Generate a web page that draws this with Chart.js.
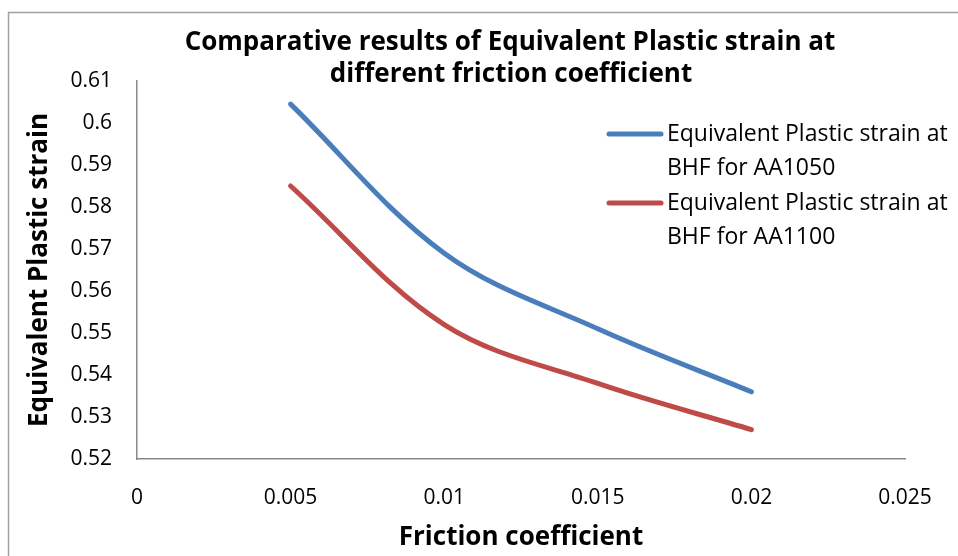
<!DOCTYPE html>
<html><head><meta charset="utf-8">
<script src="https://cdn.jsdelivr.net/npm/chart.js@4/dist/chart.umd.min.js"></script>
<style>html,body{margin:0;padding:0;background:#fff}</style>
</head><body>
<canvas id="c" width="958" height="556"></canvas>
<script>
const titleLines = ['Comparative results of Equivalent Plastic strain at', 'different friction coefficient'];
const xTitle = 'Friction coefficient';
const yTitle = 'Equivalent Plastic strain';
const friction = [0.005, 0.01, 0.015, 0.02];
const aa1050 = [0.6045, 0.569, 0.551, 0.536];
const aa1100 = [0.585, 0.552, 0.538, 0.527];
const seriesNames = ['Equivalent Plastic strain at BHF for AA1050', 'Equivalent Plastic strain at BHF for AA1100'];
const legendLines = [['Equivalent Plastic strain at', 'BHF for AA1050'], ['Equivalent Plastic strain at', 'BHF for AA1100']];
const xMin = 0, xMax = 0.025, xStep = 0.005;
const yMin = 0.52, yMax = 0.61, yStep = 0.01;
const colors = ['#4A7EBB', '#BE4B48'];

const FONT = "'Open Sans', 'Noto Sans', sans-serif";

const toPts = (xs, ys) => xs.map((x, i) => ({x: x, y: ys[i]}));
const fmt = v => String(parseFloat(Number(v).toFixed(4)));

const framePlugin = {
  id: 'frame',
  beforeDraw(chart) {
    const ctx = chart.ctx;
    ctx.save();
    ctx.fillStyle = '#fff';
    ctx.fillRect(0, 0, chart.width, chart.height);
    ctx.strokeStyle = '#a0a0a0';
    ctx.lineWidth = 1.5;
    ctx.beginPath();
    ctx.moveTo(8.5, chart.height);
    ctx.lineTo(8.5, 12.5);
    ctx.lineTo(chart.width, 12.5);
    ctx.stroke();
    ctx.restore();
  }
};

const textPlugin = {
  id: 'texts',
  afterDraw(chart) {
    const ctx = chart.ctx;
    ctx.save();
    ctx.fillStyle = '#000';
    ctx.font = "bold 26px " + FONT;
    ctx.textAlign = 'center';
    ctx.textBaseline = 'middle';
    ctx.fillText(titleLines[0], 510, 43);
    ctx.fillText(titleLines[1], 511, 75);
    ctx.font = "23px " + FONT;
    ctx.textAlign = 'left';
    const rows = [134, 203];
    legendLines.forEach((lines, i) => {
      const y = rows[i];
      ctx.strokeStyle = colors[i];
      ctx.lineWidth = 5;
      ctx.lineCap = 'round';
      ctx.beginPath();
      ctx.moveTo(609, y);
      ctx.lineTo(661, y);
      ctx.stroke();
      ctx.fillStyle = '#000';
      ctx.fillText(lines[0], 667, y);
      ctx.fillText(lines[1], 667, y + 34);
    });
    ctx.restore();
  }
};

new Chart(document.getElementById('c'), {
  type: 'scatter',
  data: {
    datasets: [
      {label: seriesNames[0], data: toPts(friction, aa1050), borderColor: colors[0], backgroundColor: colors[0]},
      {label: seriesNames[1], data: toPts(friction, aa1100), borderColor: colors[1], backgroundColor: colors[1]}
    ].map(d => Object.assign(d, {showLine: true, borderWidth: 5, pointRadius: 0, tension: 0.35, borderCapStyle: 'round', borderJoinStyle: 'round'}))
  },
  options: {
    responsive: false,
    animation: false,
    devicePixelRatio: 1,
    layout: {padding: {top: 81, right: 53, bottom: 0, left: 0}},
    plugins: {legend: {display: false}, title: {display: false}, tooltip: {enabled: false}},
    scales: {
      x: {
        type: 'linear', min: xMin, max: xMax,
        afterFit(s) { s.height = 97; },
        ticks: {stepSize: xStep, color: '#000', font: {family: FONT, size: 21}, padding: 26, maxRotation: 0, callback: fmt},
        grid: {display: false, drawTicks: false},
        border: {display: true, color: '#888', width: 1.5},
        title: {display: true, text: xTitle, color: '#000', font: {family: FONT, size: 26, weight: 'bold'}, padding: {top: 0, bottom: 3}}
      },
      y: {
        type: 'linear', min: yMin, max: yMax,
        afterFit(s) { s.width = 137; },
        ticks: {stepSize: yStep, color: '#000', font: {family: FONT, size: 21}, padding: 25, callback: fmt},
        grid: {display: false, drawTicks: false},
        border: {display: true, color: '#888', width: 1.5},
        title: {display: true, text: yTitle, color: '#000', font: {family: FONT, size: 26, weight: 'bold'}, padding: {top: 24, bottom: 0}}
      }
    }
  },
  plugins: [framePlugin, textPlugin]
});
</script>
</body></html>
